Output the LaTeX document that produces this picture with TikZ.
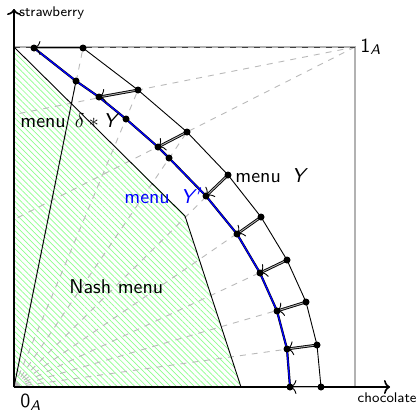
\documentclass[tikz,border=0pt]{standalone}
\usetikzlibrary{arrows.meta,patterns.meta}
\begin{document}
\begin{tikzpicture}[x=0.5pt,y=-0.5pt,font=\sffamily,
  thinl/.style={black,line width=0.45pt},
  dsh/.style={gray!55,dashed,line width=0.45pt},
  arr/.style={-{To[length=3.2pt,width=7pt]},draw=black,double=gray!60,double distance=0.45pt,line width=0.45pt},
  dotf/.style={fill=black},
  lab/.style={anchor=base west,inner sep=0pt}]
\useasboundingbox (0,0) rectangle (418,412);
% key points
\coordinate (O) at (14,387);
\coordinate (A1) at (355,47);
\coordinate (TL) at (14,47);
\coordinate (BR) at (355,387);
\coordinate (H) at (185,216);
\coordinate (HB) at (241,387);
% menu Y (outer)
\coordinate (P0) at (83,48);
\coordinate (P1) at (138,90);
\coordinate (P2) at (187,132);
\coordinate (P3) at (228,175);
\coordinate (P4) at (261,217);
\coordinate (P5) at (287,260);
\coordinate (P6) at (306,302);
\coordinate (P7) at (317,345);
\coordinate (P8) at (321,387);
% menu Y' (blue)
\coordinate (Q0) at (34,48);
\coordinate (Q1) at (99,97);
\coordinate (Q2) at (158,147);
\coordinate (Q3) at (206,196);
\coordinate (Q4) at (237,234);
\coordinate (Q5) at (260,273);
\coordinate (Q6) at (277,311);
\coordinate (Q7) at (287,349);
\coordinate (Q8) at (290,387);
\coordinate (R0) at (76,81);
\coordinate (R1) at (126,119);
\coordinate (R2) at (169,158);
% hatched region (menu delta*Y)
\fill[pattern={Lines[angle=-45,distance=2.1pt,line width=0.35pt]},pattern color=green!45]
  (O) -- (TL) -- (H) -- (HB) -- cycle;
% dashed rays
\foreach \i in {0,...,7} \draw[dsh] (O) -- (P\i);
\draw[dsh] (A1) -- (intersection of A1--P1 and O--TL);
\draw[dsh] (A1) -- (intersection of A1--P2 and O--TL);
% box
\draw[gray!60,line width=0.7pt] (TL) -- (A1) -- (BR);
\draw[black!75,dashed,line width=0.5pt] (TL) -- (A1);
% axes
\draw[line width=0.8pt,-{To[length=3pt,width=7pt]}] (O) -- (14,9) coordinate (Ytip);
\draw[line width=0.8pt,-{To[length=3pt,width=7pt]}] (O) -- (390,387) coordinate (Xtip);
\node[anchor=base west,inner sep=0pt,font=\sffamily\scriptsize] (straw) at (19,17) {strawberry};
\node[anchor=base east,inner sep=0pt,font=\sffamily\scriptsize] (choc) at (417,402) {chocolate};
% black boundaries
\draw[thinl] (P0) -- (P1) -- (P2) -- (P3) -- (P4) -- (P5) -- (P6) -- (P7) -- (P8);
\draw[thinl] (TL) -- (H) -- (HB);
\draw[thinl] (O) -- (R0);
% blue menu Y'
\draw[black,line width=1.1pt] (Q0) -- (R0) -- (Q1) -- (R1) -- (Q2) -- (R2) -- (Q3) -- (Q4) -- (Q5) -- (Q6) -- (Q7) -- (Q8);
\draw[blue,line width=0.65pt] (Q0) -- (R0) -- (Q1) -- (R1) -- (Q2) -- (R2) -- (Q3) -- (Q4) -- (Q5) -- (Q6) -- (Q7) -- (Q8);
% arrows
\foreach \i in {0,...,8} \draw[arr] (P\i) -- (Q\i);
% dots
\foreach \i in {0,...,8} {\fill[dotf] (P\i) circle (1.75pt); \fill[dotf] (Q\i) circle (1.75pt);}
\foreach \i in {0,1,2} \fill[dotf] (R\i) circle (1.75pt);
% labels
\node[lab] (one) at (360,52) {1\textsubscript{\textit{A}}};
\node[lab] (zero) at (20,407) {0\textsubscript{\textit{A}}};
\node[lab] (mdY) at (20,127) {menu\hspace{4.5pt}$\delta\ast{}$\textit{Y}};
\node[lab,text=blue] (mYp) at (124,203) {menu\hspace{5.5pt}\textit{Y}$'$};
\node[lab] (mY) at (235,182) {menu\hspace{5.5pt}\textit{Y}};
\node[lab] (nash) at (69,293) {Nash menu};
\end{tikzpicture}
\end{document}
